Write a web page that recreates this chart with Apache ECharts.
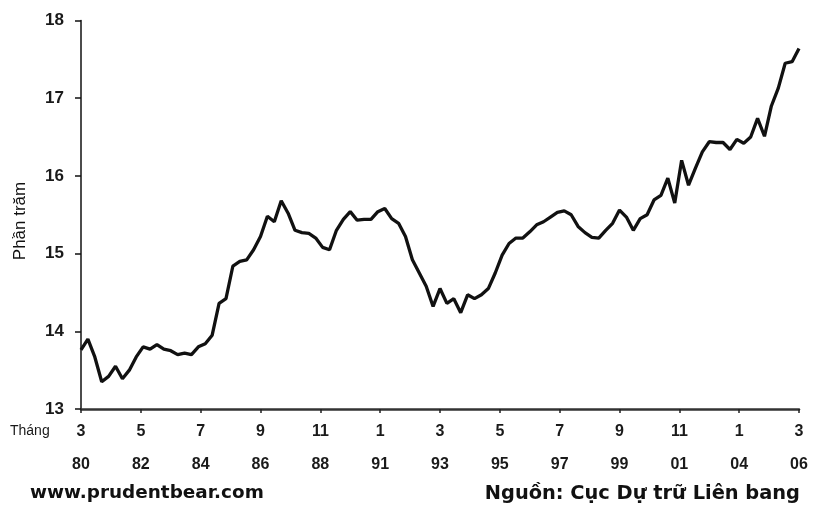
<!DOCTYPE html>
<html>
<head>
<meta charset="utf-8">
<script src="https://cdn.jsdelivr.net/npm/echarts@6/dist/echarts.min.js"></script>
<style>
html,body{margin:0;padding:0;background:#fff;}
#chart{width:815px;height:508px;}
</style>
</head>
<body>
<div id="chart"></div>
<script>
// Quarterly observations, March 1980 .. March 2006 (percent)
var startLabel = {month: 3, year: 1980};
var stepMonths = 3;
var values = [
  13.76, 13.90, 13.67, 13.35, 13.42, 13.55, 13.39, 13.50, 13.67, 13.80,
  13.77, 13.83, 13.77, 13.75, 13.70, 13.72, 13.70, 13.80, 13.84, 13.95,
  14.36, 14.42, 14.84, 14.90, 14.92, 15.05, 15.22, 15.48, 15.41, 15.68,
  15.52, 15.30, 15.27, 15.26, 15.20, 15.08, 15.05, 15.30, 15.44, 15.54,
  15.43, 15.44, 15.44, 15.54, 15.58, 15.45, 15.39, 15.22, 14.92, 14.75,
  14.58, 14.32, 14.55, 14.36, 14.42, 14.24, 14.47, 14.42, 14.47, 14.55,
  14.75, 14.98, 15.13, 15.20, 15.20, 15.28, 15.37, 15.41, 15.47, 15.53,
  15.55, 15.50, 15.35, 15.27, 15.21, 15.20, 15.30, 15.39, 15.56, 15.47,
  15.30, 15.45, 15.50, 15.69, 15.75, 15.97, 15.65, 16.20, 15.88, 16.10,
  16.31, 16.44, 16.43, 16.43, 16.34, 16.47, 16.42, 16.50, 16.74, 16.51,
  16.90, 17.13, 17.45, 17.47, 17.64
];
var yTicks = [13, 14, 15, 16, 17, 18];
var xTickStepMonths = 26;
var yAxisTitle = 'Phần trăm';
var xAxisTitle = 'Tháng';
var leftNote = 'www.prudentbear.com';
var rightNote = 'Nguồn: Cục Dự trữ Liên bang';

var seriesData = values.map(function (v, i) { return [i * stepMonths, v]; });
var totalMonths = (values.length - 1) * stepMonths;
var font = '"Liberation Sans", Arial, sans-serif';

function xLabel(v) {
  var idx = startLabel.month - 1 + v;
  var m = (idx % 12) + 1;
  var y = (startLabel.year + Math.floor(idx / 12)) % 100;
  return m + '\n' + (y < 10 ? '0' + y : '' + y);
}

var chart = echarts.init(document.getElementById('chart'), null, {renderer: 'canvas'});
chart.setOption({
  animation: false,
  backgroundColor: '#ffffff',
  grid: {left: 81, right: 16, top: 20.5, bottom: 99, containLabel: false},
  xAxis: {
    type: 'value', min: 0, max: totalMonths, interval: xTickStepMonths,
    axisLine: {show: true, lineStyle: {color: '#333', width: 2.5}},
    axisTick: {show: true, inside: false, length: 4, lineStyle: {color: '#222', width: 1.5}},
    splitLine: {show: false},
    axisLabel: {
      formatter: xLabel, color: '#1a1a1a', fontFamily: font, fontSize: 16, fontWeight: 'bold',
      lineHeight: 33, margin: 6
    }
  },
  yAxis: {
    type: 'value', min: yTicks[0], max: yTicks[yTicks.length - 1], interval: 1,
    axisLine: {show: true, lineStyle: {color: '#111', width: 1.5}},
    axisTick: {show: true, length: 6, lineStyle: {color: '#111', width: 1.5}},
    splitLine: {show: false},
    axisLabel: {color: '#1a1a1a', fontFamily: font, fontSize: 17, fontWeight: 'bold', margin: 17}
  },
  series: [{
    type: 'line', data: seriesData, showSymbol: false, smooth: false,
    lineStyle: {color: '#111', width: 3.3},
    z: 3
  }],
  graphic: [
    {type: 'text', x: 20, y: 221, rotation: Math.PI / 2,
      style: {text: yAxisTitle, fill: '#111', font: '17px ' + font, align: 'center', verticalAlign: 'middle'}},
    {type: 'text', left: 10, top: 424, style: {text: xAxisTitle, fill: '#1a1a1a', font: '14px ' + font}},
    {type: 'text', left: 30, top: 484, style: {text: leftNote, fill: '#111', font: 'bold 18.4px "DejaVu Sans", Arial, sans-serif'}},
    {type: 'text', right: 15, top: 484, style: {text: rightNote, fill: '#111', font: 'bold 19.4px "DejaVu Sans", Arial, sans-serif'}}
  ]
});
</script>
</body>
</html>
